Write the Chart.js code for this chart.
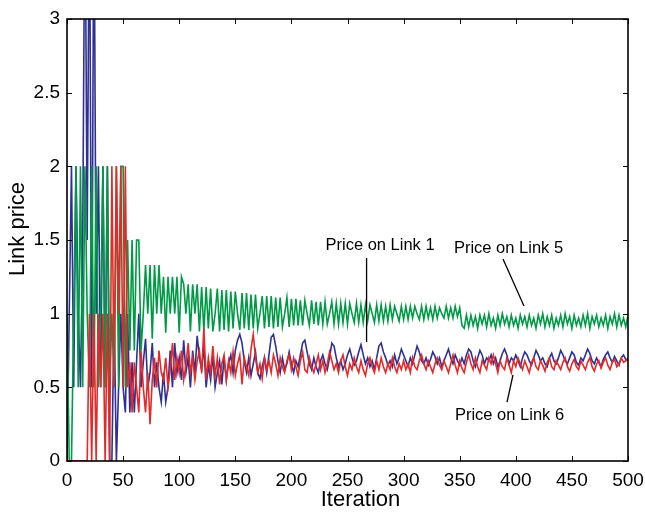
<!DOCTYPE html>
<html><head><meta charset="utf-8">
<script src="https://cdn.jsdelivr.net/npm/chart.js@4.4.0/dist/chart.umd.min.js"></script>
<style>html,body{margin:0;padding:0;background:#fff}</style>
</head><body>
<canvas id="c" width="645" height="512"></canvas>
<script>
// iteration step between stored samples
const iterStep = 2;

// Price on Link 1 (blue), one value per 2 iterations, iter 0..500
const link1 = [
  0, 1, 2, 0.5, 2, 1, 0.5, 1.5, 4, 1.5,
  4, 0.5, 4, 1, 2, 0.5, 2, 0.5, 2, 0,
  0, 1, 0, 0.5, 1, 0.5, 0.33, 1, 0.33, 0.67,
  0.33, 0.67, 1, 0.5, 0.67, 0.83, 0.5, 0.6, 0.8, 0.5,
  0.67, 0.5, 0.4, 0.6, 0.4, 0.5, 0.75, 0.5, 0.8, 0.6,
  0.7, 0.55, 0.82, 0.6, 0.7, 0.5, 0.75, 0.6, 0.85, 0.7,
  0.62, 0.78, 0.5, 0.65, 0.55, 0.72, 0.5, 0.6, 0.68, 0.52,
  0.7, 0.55, 0.66, 0.72, 0.6, 0.75, 0.82, 0.86, 0.8, 0.68,
  0.6, 0.7, 0.58, 0.66, 0.74, 0.6, 0.56, 0.64, 0.7, 0.6,
  0.72, 0.84, 0.86, 0.78, 0.68, 0.6, 0.7, 0.62, 0.66, 0.74,
  0.66, 0.6, 0.68, 0.64, 0.72, 0.8, 0.82, 0.74, 0.66, 0.62,
  0.7, 0.64, 0.6, 0.68, 0.72, 0.66, 0.62, 0.7, 0.8, 0.78,
  0.7, 0.64, 0.68, 0.62, 0.66, 0.72, 0.76, 0.7, 0.65, 0.68,
  0.74, 0.79, 0.72, 0.66, 0.7, 0.64, 0.68, 0.62, 0.7, 0.78,
  0.8, 0.74, 0.7, 0.65, 0.68, 0.64, 0.72, 0.66, 0.7, 0.76,
  0.72, 0.68, 0.64, 0.7, 0.66, 0.72, 0.78, 0.74, 0.68, 0.66,
  0.7, 0.65, 0.69, 0.74, 0.71, 0.66, 0.7, 0.64, 0.68, 0.72,
  0.76, 0.7, 0.66, 0.72, 0.68, 0.65, 0.7, 0.66, 0.72, 0.76,
  0.74, 0.68, 0.64, 0.7, 0.75, 0.72, 0.66, 0.7, 0.68, 0.72,
  0.66, 0.7, 0.64, 0.68, 0.73, 0.76, 0.72, 0.66, 0.7, 0.68,
  0.72, 0.68, 0.64, 0.7, 0.74, 0.72, 0.68, 0.65, 0.7, 0.75,
  0.72, 0.68, 0.7, 0.66, 0.64, 0.7, 0.73, 0.68, 0.66, 0.7,
  0.75, 0.72, 0.68, 0.66, 0.7, 0.74, 0.72, 0.67, 0.65, 0.7,
  0.68, 0.72, 0.76, 0.73, 0.68, 0.66, 0.7, 0.67, 0.64, 0.69,
  0.72, 0.74, 0.7, 0.67, 0.71, 0.68, 0.65, 0.7, 0.72, 0.69,
  0.68
];

// Price on Link 5 (green)
const link5 = [
  1, 0, 0, 1, 2, 0.5, 2, 0.5, 2, 1,
  0.5, 2, 0.5, 2, 0.5, 1, 2, 0.5, 2, 0.5,
  1, 0.5, 2, 0.5, 2, 2, 0.5, 1.5, 0.75, 1.5,
  0.75, 1.5, 1.5, 0.75, 1, 1.33, 1, 1.33, 0.83, 1.33,
  1, 1.33, 1, 1.25, 0.87, 1.25, 1, 1.25, 1, 1.25,
  0.87, 1.25, 1.2, 1, 1.2, 0.88, 1.2, 1, 1.2, 0.88,
  1.18, 0.88, 1.18, 0.9, 1.17, 0.88, 1.0, 1.17, 0.88, 1.16,
  0.89, 1.16, 0.88, 1.15, 0.9, 1.15, 1.0, 0.89, 1.14, 0.9,
  1.14, 0.89, 1.13, 0.9, 1.13, 0.9, 1.0, 1.12, 0.9, 1.12,
  0.91, 1.12, 0.9, 1.11, 0.91, 1.11, 0.91, 1.0, 1.11, 0.91,
  1.1, 0.92, 1.1, 0.92, 1.09, 0.92, 1.09, 1.0, 0.92, 1.09,
  0.93, 1.08, 0.92, 1.08, 0.93, 1.08, 0.93, 1.0, 1.08, 0.93,
  1.07, 0.93, 1.07, 0.94, 1.07, 0.93, 1.07, 1.0, 0.94, 1.07,
  0.94, 1.06, 0.94, 1.06, 0.95, 1.06, 1.0, 0.94, 1.06, 0.95,
  1.06, 0.95, 1.05, 0.95, 1.06, 0.96, 1.05, 1.0, 0.95, 1.05,
  0.96, 1.05, 0.96, 1.05, 0.97, 1.05, 1.0, 0.96, 1.05, 0.96,
  1.05, 0.97, 1.04, 0.96, 1.05, 0.97, 1.04, 1.0, 0.97, 1.05,
  0.97, 1.04, 0.97, 1.05, 0.98, 1.04, 0.92, 0.9, 0.99, 0.91,
  0.99, 0.92, 0.98, 0.9, 0.99, 0.93, 0.99, 0.91, 1.0, 0.92,
  0.97, 0.9, 0.99, 0.92, 1.0, 0.93, 0.98, 0.91, 0.99, 0.92,
  0.97, 0.9, 0.99, 0.93, 0.98, 0.91, 0.99, 0.92, 0.97, 0.9,
  0.99, 0.93, 1.0, 0.91, 0.98, 0.92, 0.99, 0.9, 0.97, 0.92,
  0.99, 0.91, 1.0, 0.93, 0.98, 0.9, 0.99, 0.92, 0.97, 0.91,
  0.99, 0.92, 1.0, 0.9, 0.98, 0.93, 0.99, 0.91, 0.97, 0.92,
  0.99, 0.9, 0.98, 0.93, 1.0, 0.91, 0.99, 0.92, 0.97, 0.91,
  0.99
];

// Price on Link 6 (red)
const link6 = [
  0, 0, 0, 0, 0, 0, 0, 0, 0, 0,
  1, 0, 1, 0, 1, 0.5, 1, 0, 1, 0,
  2, 0.5, 2, 1, 2, 0.5, 2, 0.5, 0.67, 0.33,
  0.67, 0.5, 0.33, 0.75, 0.5, 0.33, 0.6, 0.25, 0.55, 0.7,
  0.5, 0.75, 0.6, 0.55, 0.7, 0.5, 0.62, 0.8, 0.55, 0.7,
  0.6, 0.75, 0.55, 0.65, 0.8, 0.6, 0.7, 0.55, 0.68, 0.75,
  0.6, 0.9, 0.55, 0.7, 0.6, 0.78, 0.58, 0.7, 0.52, 0.66,
  0.72, 0.55, 0.68, 0.6, 0.74, 0.58, 0.66, 0.72, 0.52, 0.7,
  0.64, 0.58, 0.76, 0.86, 0.7, 0.6, 0.66, 0.56, 0.7, 0.62,
  0.68, 0.6, 0.72, 0.66, 0.58, 0.7, 0.64, 0.6, 0.68, 0.72,
  0.62, 0.7, 0.64, 0.58, 0.68, 0.74, 0.62, 0.6, 0.7, 0.64,
  0.6, 0.66, 0.72, 0.62, 0.68, 0.6, 0.66, 0.74, 0.68, 0.62,
  0.66, 0.6, 0.68, 0.72, 0.64, 0.58, 0.66, 0.62, 0.7, 0.64,
  0.6, 0.68, 0.62, 0.58, 0.66, 0.7, 0.64, 0.6, 0.68, 0.62,
  0.7, 0.64, 0.6, 0.66, 0.62, 0.7, 0.64, 0.6, 0.66, 0.62,
  0.68, 0.62, 0.66, 0.6, 0.7, 0.64, 0.62, 0.68, 0.72, 0.66,
  0.62, 0.68, 0.64, 0.6, 0.66, 0.7, 0.65, 0.62, 0.68, 0.64,
  0.6, 0.66, 0.72, 0.65, 0.6, 0.68, 0.63, 0.6, 0.67, 0.72,
  0.66, 0.62, 0.7, 0.64, 0.6, 0.68, 0.65, 0.62, 0.7, 0.66,
  0.72, 0.66, 0.6, 0.68, 0.64, 0.62, 0.7, 0.65, 0.6, 0.68,
  0.64, 0.7, 0.66, 0.62, 0.68, 0.64, 0.6, 0.67, 0.7, 0.64,
  0.62, 0.68, 0.65, 0.61, 0.67, 0.7, 0.64, 0.62, 0.68, 0.65,
  0.62, 0.67, 0.7, 0.64, 0.61, 0.66, 0.69, 0.64, 0.62, 0.68,
  0.65, 0.62, 0.67, 0.7, 0.64, 0.61, 0.66, 0.68, 0.63, 0.67,
  0.7, 0.65, 0.62, 0.67, 0.69, 0.64, 0.66, 0.7, 0.67, 0.68,
  0.7
];

const xTickStep = 50;
const yTickStep = 0.5;
const xMax = 500;
const yMax = 3;
const xTitle = 'Iteration';
const yTitle = 'Link price';

// Callout labels (in data coordinates)
const callouts = [
  { text: 'Price on Link 1', tx: 279, ty: 1.466, line: [[267, 1.378], [267, 0.808]] },
  { text: 'Price on Link 5', tx: 393.5, ty: 1.446, line: [[388.6, 1.371], [407.3, 1.052]] },
  { text: 'Price on Link 6', tx: 394.4, ty: 0.306, line: [[397.5, 0.584], [392.2, 0.40]] }
];

const toXY = arr => arr.map((v, i) => ({ x: i * iterStep, y: v }));
const FONT = '"Liberation Sans", Arial, Helvetica, sans-serif';

const framePlugin = {
  id: 'frame',
  afterDatasetsDraw(chart) {
    const { ctx, chartArea: a, scales: { x, y } } = chart;
    ctx.save();
    ctx.strokeStyle = '#000';
    ctx.lineWidth = 1.6;
    ctx.strokeRect(a.left, a.top, a.right - a.left, a.bottom - a.top);
    ctx.lineWidth = 1;
    const tl = 5;
    ctx.beginPath();
    x.ticks.forEach(t => {
      const px = Math.round(x.getPixelForValue(t.value)) + 0.5;
      ctx.moveTo(px, a.bottom); ctx.lineTo(px, a.bottom - tl);
      ctx.moveTo(px, a.top); ctx.lineTo(px, a.top + tl);
    });
    y.ticks.forEach(t => {
      const py = Math.round(y.getPixelForValue(t.value)) + 0.5;
      ctx.moveTo(a.left, py); ctx.lineTo(a.left + tl, py);
      ctx.moveTo(a.right, py); ctx.lineTo(a.right - tl, py);
    });
    ctx.stroke();
    // callouts
    ctx.fillStyle = '#000';
    ctx.font = '16.5px ' + FONT;
    ctx.textAlign = 'center';
    ctx.textBaseline = 'middle';
    ctx.lineWidth = 1.3;
    callouts.forEach(c => {
      ctx.fillText(c.text, x.getPixelForValue(c.tx), y.getPixelForValue(c.ty));
      ctx.beginPath();
      ctx.moveTo(x.getPixelForValue(c.line[0][0]), y.getPixelForValue(c.line[0][1]));
      ctx.lineTo(x.getPixelForValue(c.line[1][0]), y.getPixelForValue(c.line[1][1]));
      ctx.stroke();
    });
    // axis titles
    ctx.font = '22px ' + FONT;
    ctx.fillText(xTitle, 360.5, 500);
    ctx.translate(18, 229);
    ctx.rotate(-Math.PI / 2);
    ctx.fillText(yTitle, 0, 0);
    ctx.restore();
  }
};

const ds = (label, data, color) => ({
  label, data: toXY(data), borderColor: color, borderWidth: 1.6,
  pointRadius: 0, tension: 0, fill: false, clip: 0
});

new Chart(document.getElementById('c'), {
  type: 'line',
  data: {
    datasets: [
      ds('Price on Link 6', link6, '#e32a2a'),
      ds('Price on Link 5', link5, '#009a46'),
      ds('Price on Link 1', link1, '#2e3192')
    ]
  },
  options: {
    responsive: false,
    animation: false,
    devicePixelRatio: 1,
    layout: { padding: { top: 19, right: 17, left: 0, bottom: 0 } },
    plugins: { legend: { display: false }, tooltip: { enabled: false } },
    scales: {
      x: {
        type: 'linear', min: 0, max: xMax,
        grid: { display: false, drawTicks: false },
        border: { display: false },
        ticks: { stepSize: xTickStep, color: '#000', padding: 8, maxRotation: 0, font: { family: FONT, size: 19 } },
        afterFit(s) { s.height = 51; s.paddingLeft = 0; s.paddingRight = 0; }
      },
      y: {
        type: 'linear', min: 0, max: yMax,
        grid: { display: false, drawTicks: false },
        border: { display: false },
        ticks: { stepSize: yTickStep, color: '#000', padding: 7, font: { family: FONT, size: 19 },
                 callback: v => String(Number(v)) },
        afterFit(s) { s.width = 67; s.paddingTop = 0; s.paddingBottom = 0; }
      }
    }
  },
  plugins: [framePlugin]
});
</script>
</body></html>
